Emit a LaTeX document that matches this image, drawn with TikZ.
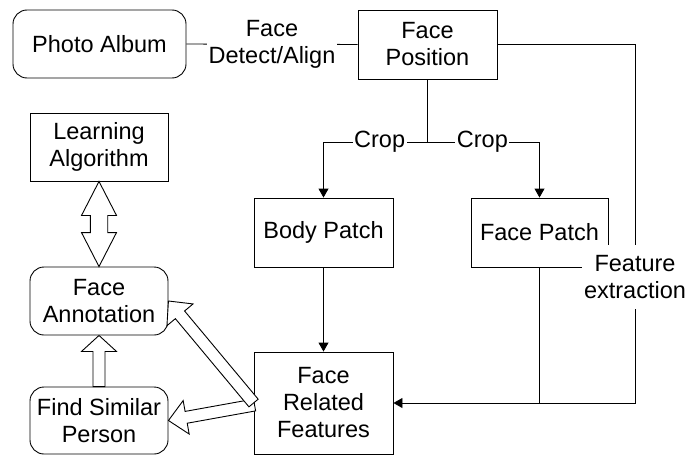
\documentclass[tikz,border=0pt]{standalone}
\usepackage{fontspec}
\setmainfont{Liberation Sans}
\usetikzlibrary{arrows.meta,calc}
\newcommand{\dfont}{\fontsize{23.5}{27}\selectfont}
% fat arrow: #1 start, #2 tip, #3 shaft half-width, #4 head half-width, #5 head length
\newcommand{\fatarr}[5]{%
  \coordinate (fatB) at ($(#2)!#5!(#1)$);
  \draw[fat] ($(#1)!#3!90:(#2)$) -- ($(fatB)!#3!-90:(#1)$) -- ($(fatB)!#4!-90:(#1)$)
    -- (#2) -- ($(fatB)!#4!90:(#1)$) -- ($(fatB)!#3!90:(#1)$) -- ($(#1)!#3!-90:(#2)$) -- cycle;}
% double fat arrow
\newcommand{\dfatarr}[5]{%
  \coordinate (fatB) at ($(#2)!#5!(#1)$);
  \coordinate (fatC) at ($(#1)!#5!(#2)$);
  \draw[fat] (#1) -- ($(fatC)!#4!90:(#2)$) -- ($(fatC)!#3!90:(#2)$) -- ($(fatB)!#3!-90:(#1)$)
    -- ($(fatB)!#4!-90:(#1)$) -- (#2) -- ($(fatB)!#4!90:(#1)$) -- ($(fatB)!#3!90:(#1)$)
    -- ($(fatC)!#3!-90:(#2)$) -- ($(fatC)!#4!-90:(#2)$) -- cycle;}
\begin{document}
\begin{tikzpicture}[x=1pt,y=-1pt,
  box/.style={draw, line width=0.9pt, inner sep=0pt, align=center, font=\dfont,
              minimum width=138pt, minimum height=68pt},
  rbox/.style={box, rounded corners=14pt},
  conn/.style={line width=0.9pt},
  arr/.style={conn, -{Triangle[width=10pt,length=9pt]}},
  lbl/.style={fill=white, inner sep=1.5pt, align=center, font=\dfont},
  fat/.style={draw, fill=white, line width=0.9pt, line join=miter}]
\useasboundingbox (0,0) rectangle (690,455);

\node[rbox, minimum width=173pt] (album) at (99.5,44) {Photo Album};
\node[box, minimum width=139pt, minimum height=69pt] (facepos) at (427.5,44.5) {Face\\Position};
\node[box] (learn) at (99,147) {Learning\\Algorithm};
\node[rbox] (annot) at (99,301) {Face\\Annotation};
\node[rbox, minimum height=67pt] (similar) at (99,420.5) {Find Similar\\Person};
\node[box, minimum width=139pt, minimum height=69pt] (body) at (323.5,232.5) {Body Patch};
\node[box, minimum width=137pt, minimum height=69pt] (facepatch) at (539.5,232.5) {Face Patch};
\node[box, minimum width=139pt, minimum height=102pt] (frf) at (323.5,403) {Face\\Related\\Features};

\coordinate (split) at (427.5,142);
\coordinate (tr) at (635,44.5);
\coordinate (br) at (635,403);

% Photo Album -> Face Position
\draw[conn] (album.east) -- node[lbl, pos=0.5] {Face\\Detect/Align} (facepos.west);

% Crop branches
\draw[conn] (facepos.south) -- (split);
\draw[arr] (split) -- node[lbl, pos=0.46] {Crop} (body.north |- split) -- (body.north);
\draw[arr] (split) -- node[lbl, pos=0.49] {Crop} (facepatch.north |- split) -- (facepatch.north);

% Body Patch -> Face Related Features
\draw[arr] (body.south) -- (frf.north);

% Face Patch down to bottom line
\draw[conn] (facepatch.south) -- (facepatch.south |- br);

% Feature extraction
\draw[arr] (facepos.east) -- (tr) -- node[lbl, pos=0.648, inner xsep=2pt, inner ysep=10pt] {Feature\\extraction} (br) -- (frf.east);

% fat arrows
\dfatarr{learn.south}{annot.north}{8.7pt}{17.5pt}{34pt}
\fatarr{similar.north}{annot.south}{6pt}{17.5pt}{16pt}
\fatarr{$(frf.west)+(1,2)$}{similar.east}{6pt}{17pt}{18pt}
\fatarr{frf.west}{annot.east}{6pt}{17pt}{18pt}
\end{tikzpicture}
\end{document}
